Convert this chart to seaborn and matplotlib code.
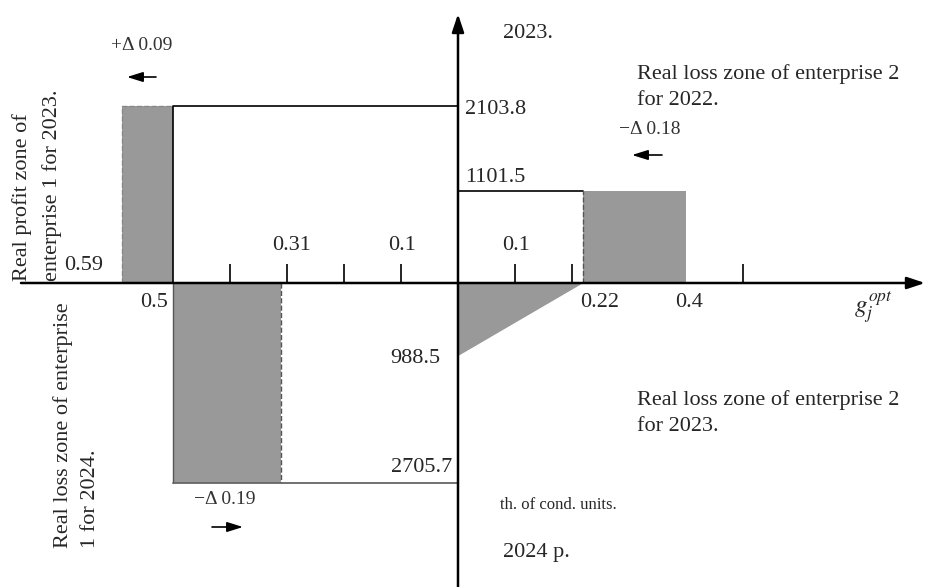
import matplotlib
matplotlib.use("Agg")
import matplotlib.pyplot as plt
import numpy as np
import seaborn as sns

# optimal shares g_j (left of the vertical axis = enterprise 1, right = enterprise 2)
e1_profit_2023_g = [0.59, 0.5]
e1_loss_2024_g = [0.5, 0.31]
e2_loss_2022_g = [0.22, 0.4]
e2_loss_2023_g = 0.22
inner_labels = [0.31, 0.1, 0.1]
inner_label_pos = [-0.31, -0.1, 0.1]

# values, th. of cond. units
e1_profit_2023 = 2103.8
e2_loss_2022 = 1101.5
e2_loss_2023 = 988.5
e1_loss_2024 = 2705.7

deltas = ["+Δ 0.09", "−Δ 0.18", "−Δ 0.19"]
tick_steps = [-0.4, -0.3, -0.2, -0.1, 0.1, 0.2, 0.5]

W, H = 928, 587
GX = 570.0    # px per unit of g
UP = 0.0839   # px per unit of value above the axis
DOWN = 0.074  # px per unit of value below the axis
OX, OY = 458, 283

sns.set_theme(style="white")
plt.rcParams["font.family"] = ["Liberation Serif", "DejaVu Serif"]
plt.rcParams["mathtext.fontset"] = "stix"

fig = plt.figure(figsize=(W / 100, H / 100), dpi=100)
ax = fig.add_axes([0, 0, 1, 1])


def fwd(y):
    y = np.asarray(y, dtype=float)
    return np.where(y >= 0, y * UP, y * DOWN)


def inv(p):
    p = np.asarray(p, dtype=float)
    return np.where(p >= 0, p / UP, p / DOWN)


ax.set_yscale("function", functions=(fwd, inv))
ax.set_xlim(-OX / GX, (W - OX) / GX)
ax.set_ylim(-(H - OY) / DOWN, OY / UP)
ax.axis("off")

gray = "#999999"


def px(x, y):
    return x / W, 1 - y / H


def put(x, y, s, **kw):
    kw.setdefault("fontsize", 16)
    fig.text(*px(x, y), s, **kw)


# small ticks on the g axis
ax.vlines(tick_steps, 0, 19 / UP, color="black", lw=1.2, zorder=1)

# enterprise 1, profit 2023
a, b = -e1_profit_2023_g[0], -e1_profit_2023_g[1]
ax.fill_between([a, b], 0, e1_profit_2023, color=gray, lw=0, zorder=2)
ax.plot([a, a, b], [0, e1_profit_2023, e1_profit_2023], ls="--", color="#888888", lw=1, zorder=3)
ax.plot([b, b, 0], [0, e1_profit_2023, e1_profit_2023], color="black", lw=1.2, zorder=3)

# enterprise 1, loss 2024
a, b = -e1_loss_2024_g[0], -e1_loss_2024_g[1]
ax.fill_between([a, b], -e1_loss_2024, 0, color=gray, lw=0, zorder=2)
ax.plot([a, a], [0, -e1_loss_2024], color="#555555", lw=1, zorder=3)
ax.plot([b, b], [0, -e1_loss_2024], ls="--", color="#555555", lw=1, zorder=3)
ax.plot([a, 0], [-e1_loss_2024, -e1_loss_2024], color="#666666", lw=1.3, zorder=3)

# enterprise 2, loss 2022
a, b = e2_loss_2022_g
ax.fill_between([a, b], 0, e2_loss_2022, color=gray, lw=0, zorder=2)
ax.plot([0, a], [e2_loss_2022, e2_loss_2022], color="black", lw=1.2, zorder=3)
ax.plot([a, a], [0, e2_loss_2022], ls="--", color="#555555", lw=1, zorder=3)

# enterprise 2, loss 2023
ax.fill([0, e2_loss_2023_g, 0], [0, 0, -e2_loss_2023], color=gray, lw=0, zorder=2)

# axes with arrows
arw = dict(arrowstyle="-|>,head_length=0.9,head_width=0.3", color="black", lw=1.8, shrinkA=0, shrinkB=0)
ax.annotate("", xy=((925 - OX) / GX, 0), xytext=((21 - OX) / GX, 0), arrowprops=arw, zorder=4)
ax.annotate("", xy=(0, (OY - 14) / UP), xytext=(0, -(H - OY) / DOWN), arrowprops=arw, zorder=4)

# value labels
ax.annotate(f"{e1_profit_2023}", (0, e1_profit_2023), xytext=(7, -3), textcoords="offset pixels",
            ha="left", va="center", fontsize=16)
ax.annotate(f"{e2_loss_2022}", (0, e2_loss_2022), xytext=(7, 4), textcoords="offset pixels",
            ha="left", va="bottom", fontsize=16)
ax.annotate(f"{e2_loss_2023}", (0, -e2_loss_2023), xytext=(-18, -2), textcoords="offset pixels",
            ha="right", va="center", fontsize=16)
ax.annotate(f"{e1_loss_2024}", (0, -e1_loss_2024), xytext=(-6, 6), textcoords="offset pixels",
            ha="right", va="bottom", fontsize=16)

# g labels
ax.annotate(f"{e1_profit_2023_g[0]}", (-e1_profit_2023_g[0], 0), xytext=(-19, 8),
            textcoords="offset pixels", ha="right", va="bottom", fontsize=16)
ax.annotate(f"{e1_profit_2023_g[1]}", (-e1_profit_2023_g[1], 0), xytext=(-5, -10),
            textcoords="offset pixels", ha="right", va="top", fontsize=16)
for lab, pos in zip(inner_labels, inner_label_pos):
    dx = 10 if pos == -0.31 else 1
    ax.annotate(f"{lab}", (pos, 0), xytext=(dx, 28), textcoords="offset pixels",
                ha="center", va="bottom", fontsize=16)
ax.annotate(f"{e2_loss_2022_g[0]}", (e2_loss_2022_g[0], 0), xytext=(16, -10),
            textcoords="offset pixels", ha="center", va="top", fontsize=16)
ax.annotate(f"{e2_loss_2022_g[1]}", (e2_loss_2022_g[1], 0), xytext=(3, -10),
            textcoords="offset pixels", ha="center", va="top", fontsize=16)
put(873, 308, r"$g_j^{opt}$", ha="center", va="center", fontsize=18)

# zone captions
put(503, 33, "2023.", ha="left", va="center")
put(503, 553, "2024 p.", ha="left", va="center")
put(500, 505, "th. of cond. units.", ha="left", va="center", fontsize=12)
put(637, 87, "Real loss zone of enterprise 2\nfor 2022.", ha="left", va="center", linespacing=1.48)
put(637, 413, "Real loss zone of enterprise 2\nfor 2023.", ha="left", va="center", linespacing=1.48)
put(12, 281, "Real profit zone of\nenterprise 1 for 2023.", rotation=90, ha="left", va="bottom",
    multialignment="left", linespacing=1.7)
put(53, 548, "Real loss zone of enterprise\n1 for 2024.", rotation=90, ha="left", va="bottom",
    multialignment="left", linespacing=1.6)

# shifts
dcol = "#333333"
put(142, 45, deltas[0], ha="center", va="center", fontsize=14, color=dcol)
put(650, 129, deltas[1], ha="center", va="center", fontsize=14, color=dcol)
put(225, 500, deltas[2], ha="center", va="center", fontsize=14, color=dcol)
small = dict(arrowstyle="-|>,head_length=0.8,head_width=0.25", color="black", lw=1.2,
             shrinkA=0, shrinkB=0, mutation_scale=12)
for (x0, y0), (x1, y1) in [((156, 77), (127, 77)), ((662, 155), (632, 155)), ((212, 527), (243, 527))]:
    fig.add_artist(matplotlib.patches.FancyArrowPatch(px(x0, y0), px(x1, y1),
                                                      transform=fig.transFigure, **small))

fig.savefig("out.png", dpi=100, facecolor="white")
